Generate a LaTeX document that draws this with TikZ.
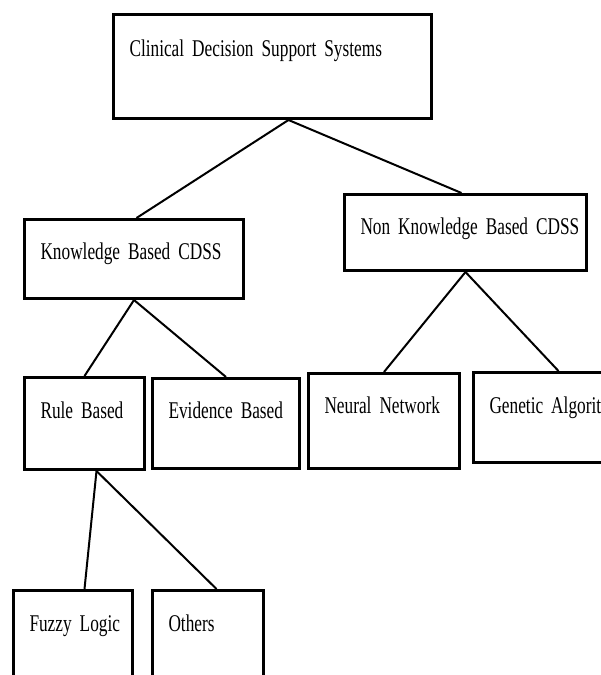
\documentclass[tikz,border=0pt]{standalone}
\usepackage{fontspec}
\setmainfont{Liberation Serif}[FakeStretch=0.72]
\newcommand\boxfont{\fontsize{24}{28}\selectfont\spaceskip=2.5pt plus 1pt\relax}
\tikzset{
  box/.style={draw, line width=3pt, anchor=north west, inner sep=0pt, align=left,
    font=\boxfont, execute at begin node={\hspace*{16pt}}},
  link/.style={line width=2pt}
}

\begin{document}
\begin{tikzpicture}[x=1pt,y=-1pt]
\clip (0,0) rectangle (601,675);

% top
\node[box, text width=318pt, text height=42pt, text depth=62pt] (cdss) at (112,13) {Clinical Decision Support Systems};

% second level
\node[box, text width=219pt, text height=40pt, text depth=39pt] (kb) at (23,218) {Knowledge Based CDSS};
\node[box, text width=242pt, text height=40pt, text depth=36pt] (nkb) at (343,193) {Non Knowledge Based CDSS};

% third level
\node[box, text width=120pt, text height=41pt, text depth=51pt] (rule) at (23,376) {Rule Based};
\node[box, text width=147pt, text height=40pt, text depth=50pt] (evid) at (151,377) {Evidence Based};
\node[box, text width=151pt, text height=40pt, text depth=55pt] (nn) at (307,372) {Neural Network};
\node[box, text width=170pt, text height=41pt, text depth=49pt] (ga) at (472,371) {Genetic Algorithm};

% bottom
\node[box, text width=119pt, text height=41pt, text depth=70pt] (fuzzy) at (12,589) {Fuzzy Logic};
\node[box, text width=111pt, text height=41pt, text depth=70pt] (others) at (151,589) {Others};

% lines
\draw[link] ([xshift=16pt]cdss.south) -- ([xshift=2.5pt]kb.north);
\draw[link] ([xshift=16pt]cdss.south) -- ([xshift=-4pt]nkb.north);
\draw[link] (kb.south) -- (rule.north);
\draw[link] (kb.south) -- (evid.north);
\draw[link] (nkb.south) -- (nn.north);
\draw[link] (nkb.south) -- (ga.north);
\draw[link] ([xshift=12pt]rule.south) -- ([xshift=11.5pt]fuzzy.north);
\draw[link] ([xshift=12pt]rule.south) -- ([xshift=8.5pt]others.north);

\end{tikzpicture}
\end{document}
